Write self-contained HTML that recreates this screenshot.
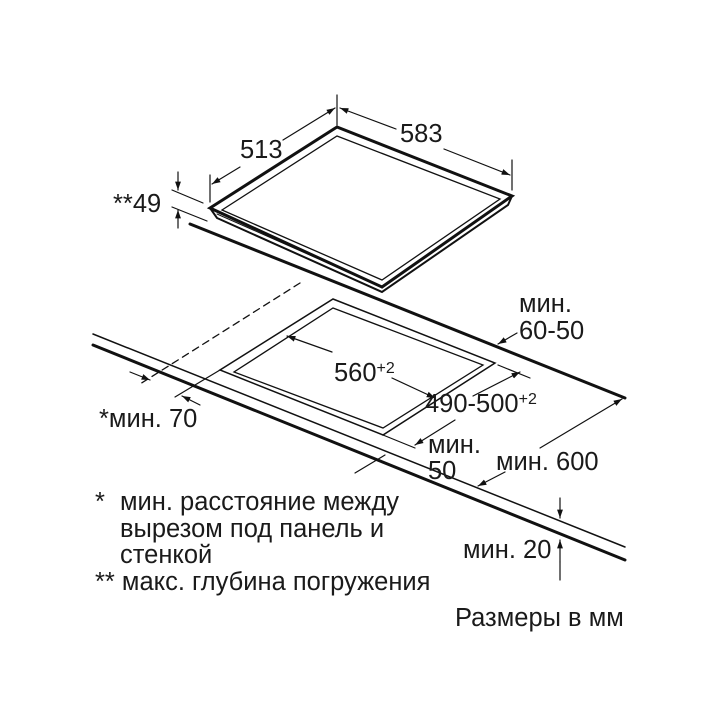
<!DOCTYPE html>
<html><head><meta charset="utf-8"><style>
body{margin:0;background:#fff}
svg{display:block}
text{font-family:"Liberation Sans",Arial,sans-serif;font-size:25.5px;fill:#1a1a1a}
</style></head><body>
<svg width="720" height="720" viewBox="0 0 720 720" xmlns="http://www.w3.org/2000/svg">
<defs>
<marker id="a" viewBox="0 0 10 10" refX="10" refY="5" markerWidth="7" markerHeight="7" orient="auto-start-reverse"><path d="M0,1.5L10,5L0,8.5z" fill="#111"/></marker>
</defs>
<g stroke="#111" fill="none" stroke-linecap="round">
<path d="M337,127 L512,196 L382,287 L210,208 Z" stroke-width="3"/>
<path d="M337,136 L500,199 L382,280 L222,210 Z" stroke-width="1.3"/>
<path d="M210,208 L217,218 L382,292 L508,205 L512,196" stroke-width="2"/>
<path d="M217,214 L382,287" stroke-width="1"/>
<path d="M190,224 L625,398" stroke-width="3"/>
<path d="M93,334 L625,547" stroke-width="1.5"/>
<path d="M93,345 L625,560" stroke-width="3"/>
<path d="M300,283 L140,384" stroke-width="1.3" stroke-dasharray="7,5"/>
<path d="M333,299 L495,363 L383,435 L220,370 Z" stroke-width="1.5"/>
<path d="M333,308 L483,365 L383,428 L234,372 Z" stroke-width="1.3"/>
<path d="M220,370 L175,397" stroke-width="1.2"/>
<path d="M337,95 L337,125" stroke-width="1.2"/>
<path d="M210,175 L210,202" stroke-width="1.2"/>
<path d="M512,160 L512,190" stroke-width="1.2"/>
<path d="M283,140 L335,108" stroke-width="1.2" marker-end="url(#a)"/>
<path d="M240,167 L212,184" stroke-width="1.2" marker-end="url(#a)"/>
<path d="M396,129 L340,108" stroke-width="1.2" marker-end="url(#a)"/>
<path d="M444,149 L510,175" stroke-width="1.2" marker-end="url(#a)"/>
<path d="M172,190 L203,203" stroke-width="1.2"/>
<path d="M172,207 L207,221" stroke-width="1.2"/>
<path d="M178,172 L178,190" stroke-width="1.2" marker-end="url(#a)"/>
<path d="M178,228 L178,210" stroke-width="1.2" marker-end="url(#a)"/>
<path d="M332,352 L287,336" stroke-width="1.2" marker-end="url(#a)"/>
<path d="M392,378 L435,398" stroke-width="1.2" marker-end="url(#a)"/>
<path d="M498,365 L530,378" stroke-width="1.2"/>
<path d="M383,435 L415,448" stroke-width="1.2"/>
<path d="M473,396 L520,372" stroke-width="1.2" marker-end="url(#a)"/>
<path d="M455,420 L415,445" stroke-width="1.2" marker-end="url(#a)"/>
<path d="M130,372 L150,380" stroke-width="1.2" marker-end="url(#a)"/>
<path d="M200,405 L182,396" stroke-width="1.2" marker-end="url(#a)"/>
<path d="M355,473 L385,455" stroke-width="1.2"/>
<path d="M517,333 L498,344" stroke-width="1.2" marker-end="url(#a)"/>
<path d="M540,448 L622,399" stroke-width="1.2" marker-end="url(#a)"/>
<path d="M505,472 L478,486" stroke-width="1.2" marker-end="url(#a)"/>
<path d="M560,498 L560,518" stroke-width="1.2" marker-end="url(#a)"/>
<path d="M560,562 L560,540" stroke-width="1.2" marker-end="url(#a)"/>
<path d="M560,562 L560,580" stroke-width="1.2"/>
</g>
<text x="240" y="158">513</text>
<text x="400" y="142">583</text>
<text x="113" y="212">**49</text>
<text x="519" y="312">мин.</text>
<text x="519" y="339">60-50</text>
<text x="334" y="381">560<tspan font-size="16" dy="-8">+2</tspan></text>
<text x="425" y="412">490-500<tspan font-size="16" dy="-8">+2</tspan></text>
<text x="99" y="427">*мин. 70</text>
<text x="428" y="453">мин.</text>
<text x="428" y="479">50</text>
<text x="496" y="470">мин. 600</text>
<text x="463" y="558">мин. 20</text>
<text x="95" y="510">*</text>
<text x="120" y="510">мин. расстояние между</text>
<text x="120" y="537">вырезом под панель и</text>
<text x="120" y="563">стенкой</text>
<text x="95" y="590">** макс. глубина погружения</text>
<text x="455" y="626">Размеры в мм</text>
</svg>
</body></html>
